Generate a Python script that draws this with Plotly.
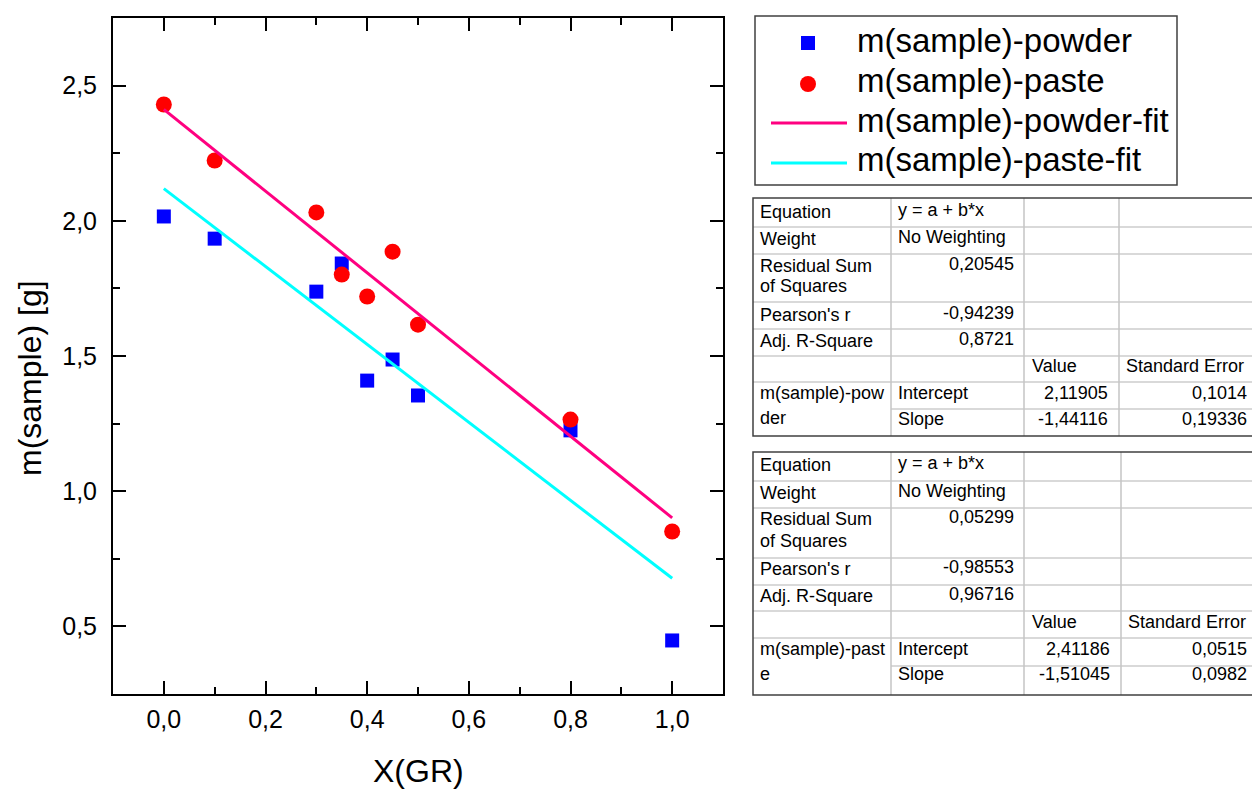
import plotly.graph_objects as go

# ---------------- data ----------------
x_gr = [0.0, 0.1, 0.3, 0.35, 0.4, 0.45, 0.5, 0.8, 1.0]
m_powder = [2.016, 1.934, 1.738, 1.842, 1.409, 1.487, 1.354, 1.225, 0.448]
m_paste = [2.430, 2.223, 2.031, 1.801, 1.720, 1.886, 1.616, 1.265, 0.851]

fit_x = [0.0, 1.0]
# fit results (as reported in the two tables)
powder_fit = {"name": "m(sample)-pow|der", "rss": 0.20545, "r": -0.94239, "adjr2": 0.8721,
              "intercept": 2.11905, "intercept_se": 0.1014,
              "slope": -1.44116, "slope_se": 0.19336}
paste_fit = {"name": "m(sample)-past|e", "rss": 0.05299, "r": -0.98553, "adjr2": 0.96716,
             "intercept": 2.41186, "intercept_se": 0.0515,
             "slope": -1.51045, "slope_se": 0.0982}

legend_labels = ["m(sample)-powder", "m(sample)-paste",
                 "m(sample)-powder-fit", "m(sample)-paste-fit"]

x_ticks = [0.0, 0.2, 0.4, 0.6, 0.8, 1.0]
y_ticks = [0.5, 1.0, 1.5, 2.0, 2.5]

# ---------------- layout helpers ----------------
W, H = 1252, 789
L, R, T, B = 113, 723, 18, 694
FONT = "Liberation Sans, Arial, sans-serif"


def px(x):
    return (x - L) / (R - L)


def py(y):
    return (B - y) / (B - T)


def fmt(v):
    return str(v).replace(".", ",")


def line_fit(p):
    return [p["intercept"] + p["slope"] * x for x in fit_x]


fig = go.Figure()
fig.add_trace(go.Scatter(x=x_gr, y=m_powder, mode="markers", name=legend_labels[0],
                         marker=dict(symbol="square", size=14, color="#0000FF")))
fig.add_trace(go.Scatter(x=x_gr, y=m_paste, mode="markers", name=legend_labels[1],
                         marker=dict(symbol="circle", size=16, color="#FF0000")))
fig.add_trace(go.Scatter(x=fit_x, y=line_fit(paste_fit), mode="lines", name=legend_labels[2],
                         line=dict(color="#FF0080", width=3)))
fig.add_trace(go.Scatter(x=fit_x, y=line_fit(powder_fit), mode="lines", name=legend_labels[3],
                         line=dict(color="#00FFFF", width=3)))

axis_common = dict(showline=True, linecolor="black", linewidth=2, mirror="allticks",
                   ticks="inside", ticklen=13, tickwidth=2, tickcolor="black",
                   showgrid=False, zeroline=False, tickformat=".1f",
                   tickfont=dict(family=FONT, size=25, color="black"))

fig.update_xaxes(range=[-0.1, 1.1], tickvals=x_ticks, ticklabelstandoff=2,
                 minor=dict(ticks="inside", ticklen=7, tickwidth=2, tickcolor="black", dtick=0.1,
                            tick0=0),
                 **axis_common)
fig.update_yaxes(range=[0.25, 2.75], tickvals=y_ticks, ticklabelstandoff=9,
                 minor=dict(ticks="inside", ticklen=7, tickwidth=2, tickcolor="black", dtick=0.25,
                            tick0=0),
                 **axis_common)

shapes = []
annotations = []


def text(x, y, s, size, anchor="left", color="black", angle=0):
    annotations.append(dict(x=px(x), y=py(y), xref="paper", yref="paper", text=s,
                            showarrow=False, xanchor=anchor, yanchor="middle",
                            textangle=angle, borderpad=0,
                            font=dict(family=FONT, size=size, color=color)))


# axis titles
text(418, 771, "X(GR)", 32, anchor="center")
text(30, 378, "m(sample) [g]", 32, anchor="center", angle=-90)

# ---------------- legend (drawn) ----------------
shapes.append(dict(type="rect", xref="paper", yref="paper", x0=px(755), x1=px(1177),
                   y0=py(16), y1=py(185), line=dict(color="#404040", width=1.5)))
leg_y = [43, 84, 123, 163]
shapes.append(dict(type="rect", xref="paper", yref="paper", xsizemode="pixel", ysizemode="pixel",
                   xanchor=px(808), yanchor=py(leg_y[0]), x0=-7, x1=7, y0=-7, y1=7,
                   fillcolor="#0000FF", line=dict(width=0)))
shapes.append(dict(type="circle", xref="paper", yref="paper", xsizemode="pixel", ysizemode="pixel",
                   xanchor=px(808), yanchor=py(leg_y[1]), x0=-8, x1=8, y0=-8, y1=8,
                   fillcolor="#FF0000", line=dict(width=0)))
for yy, col in [(leg_y[2], "#FF0080"), (leg_y[3], "#00FFFF")]:
    shapes.append(dict(type="line", xref="paper", yref="paper", x0=px(771), x1=px(847),
                       y0=py(yy), y1=py(yy), line=dict(color=col, width=3)))
for yy, lab in zip(leg_y, legend_labels):
    text(856, yy - 3, lab, 33)


# ---------------- tables (drawn) ----------------
def draw_table(p, rows, cols, base):
    top, bot = rows[0], rows[-1]
    left, right = cols[0], cols[-1]
    inner_h = "#d9d9d9"
    inner_v = "#c4c4c4"
    for i, ry in enumerate(rows[1:-1], start=1):
        x0 = cols[1] if i == len(rows) - 2 else left
        shapes.append(dict(type="line", xref="paper", yref="paper", x0=px(x0), x1=px(right + 3),
                           y0=py(ry), y1=py(ry), line=dict(color=inner_h, width=2)))
    for cx in cols[1:-1]:
        shapes.append(dict(type="line", xref="paper", yref="paper", x0=px(cx), x1=px(cx),
                           y0=py(top), y1=py(bot), line=dict(color=inner_v, width=1.5)))
    shapes.append(dict(type="rect", xref="paper", yref="paper", x0=px(left), x1=px(right + 5),
                       y0=py(top), y1=py(bot), line=dict(color="#404040", width=1.5)))

    fs = 18
    off = 6.2
    c0 = cols[0] + 6
    c1l = cols[1] + 6
    c1r = cols[2] - 9
    c2l = cols[2] + 7
    c2r = cols[3] - 10
    c3l = cols[3] + 6
    c3r = 1248
    text(c0, base[0] - off, "Equation", fs)
    text(c1l, base[0] - off - 2, "y = a + b*x", fs)
    text(c0, base[1] - off, "Weight", fs)
    text(c1l, base[1] - off - 2, "No Weighting", fs)
    text(c0, base[2][0] - off, "Residual Sum", fs)
    text(c0, base[2][1] - off, "of Squares", fs)
    text(c1r, base[2][0] - off - 2, fmt(p["rss"]), fs, anchor="right")
    text(c0, base[3] - off, "Pearson's r", fs)
    text(c1r, base[3] - off - 2, fmt(p["r"]), fs, anchor="right")
    text(c0, base[4] - off, "Adj. R-Square", fs)
    text(c1r, base[4] - off - 2, fmt(p["adjr2"]), fs, anchor="right")
    text(c2l, base[5] - off, "Value", fs)
    text(c3l, base[5] - off, "Standard Error", fs)
    n1, n2 = p["name"].split("|")
    text(c0, base[6][0] - off, n1, fs)
    text(c0, base[6][1] - off, n2, fs)
    text(c1l, base[6][0] - off, "Intercept", fs)
    text(c2r, base[6][0] - off, fmt(p["intercept"]), fs, anchor="right")
    text(c3r, base[6][0] - off, fmt(p["intercept_se"]), fs, anchor="right")
    text(c1l, base[7] - off, "Slope", fs)
    text(c2r, base[7] - off, fmt(p["slope"]), fs, anchor="right")
    text(c3r, base[7] - off, fmt(p["slope_se"]), fs, anchor="right")


draw_table(powder_fit,
           [198, 227, 254, 302, 329, 356, 382, 409, 436],
           [753, 891, 1024, 1119, 1251],
           [218, 245, (272, 292), 321, 347, 372, (399, 424), 425])
draw_table(paste_fit,
           [452, 481, 508, 558, 585, 611, 638, 666, 695],
           [753, 891, 1024, 1121, 1251],
           [471, 499, (525, 547), 575, 602, 628, (655, 680), 680])

fig.update_layout(width=W, height=H, autosize=False,
                  margin=dict(l=L, r=W - R, t=T, b=H - B, autoexpand=False),
                  paper_bgcolor="white", plot_bgcolor="white",
                  separators=",.", showlegend=False,
                  font=dict(family=FONT, color="black"),
                  shapes=shapes, annotations=annotations)

fig.write_html("out.html",
               config={"displayModeBar": False},
               post_script="document.body.style.margin='0';"
                           "document.body.style.overflow='hidden';"
                           "document.documentElement.style.overflow='hidden';")
